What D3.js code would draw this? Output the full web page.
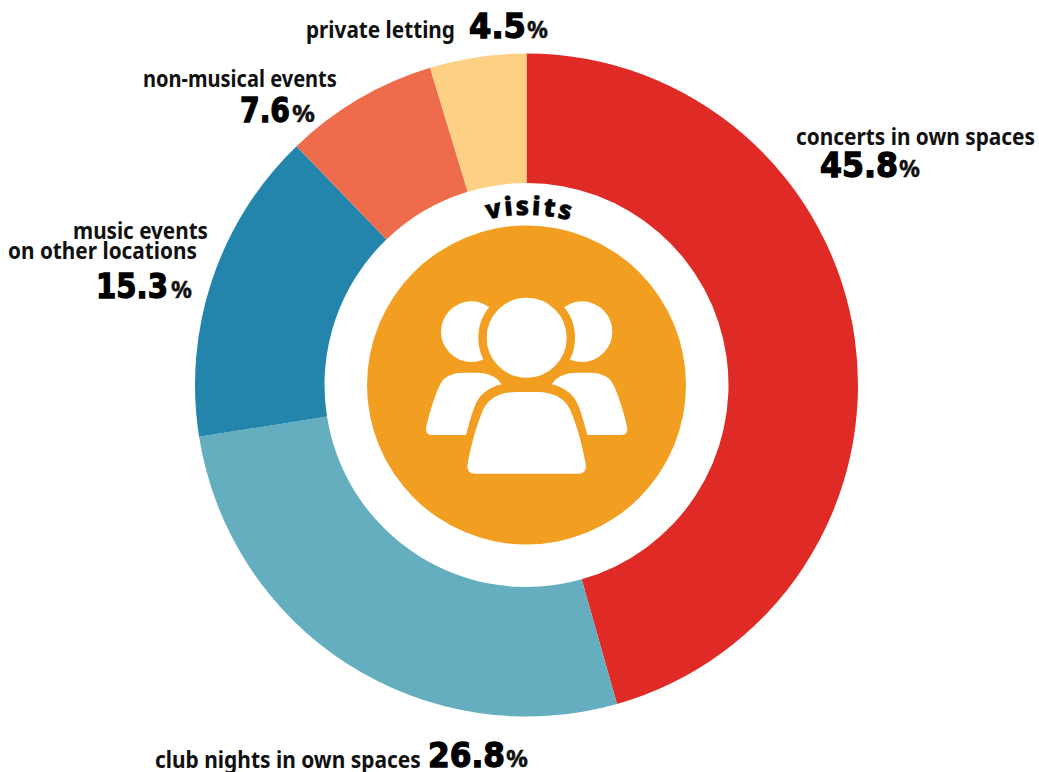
<!DOCTYPE html>
<html>
<head>
<meta charset="UTF-8">
<title></title>
<style>
  html, body { margin: 0; padding: 0; background: #fff; }
  svg { display: block; }
  .name { font-family: "Noto Sans", sans-serif; font-weight: 700; font-size: 23px; fill: #111; }
  .num { font-family: "DejaVu Sans", sans-serif; font-weight: 700; font-size: 33px; fill: #000; stroke: #000; stroke-width: 1.3px; }
  .pct { font-family: "Noto Sans", sans-serif; font-weight: 700; font-size: 24px; fill: #111; stroke: #111; stroke-width: .4px; }
</style>
</head>
<body>
<svg width="1039" height="772"></svg>
<script src="https://cdn.jsdelivr.net/npm/d3@7"></script>
<script>
var categories = ["concerts in own spaces", "club nights in own spaces", "music events on other locations", "non-musical events", "private letting"];
var values = [45.8, 26.8, 15.3, 7.6, 4.5];
// the drawn slices are not quite the printed numbers, these are read off the ring
var sliceShares = [45.6, 26.9, 15.3, 7.5, 4.7];
var colors = ["#e02a26", "#64aec0", "#2385ac", "#ee6c4c", "#fed084"];

// label placement, by hand: name lines [text, x, baseline, width], number x + baseline + width
var nameLines = [
  [["concerts in own spaces", 796, 145, 239]],
  [["club nights in own spaces", 155, 768, 266]],
  [["music events", 73, 239, 135], ["on other locations", 8, 259, 189]],
  [["non-musical events", 143, 87, 194]],
  [["private letting", 306, 38, 149]]
];
var numberPos = [[820, 177, 78], [428, 767, 77], [96, 298, 72], [240, 122, 50], [469, 38, 57]];
var pctPos = [[899, 920], [506, 528], [171, 192], [292, 315], [527, 548]];

var cx = 526.5, cy = 385;
var svg = d3.select("svg");
var chart = svg.append("g").attr("transform", "translate(" + cx + "," + cy + ")");

var pie = d3.pie().sort(null);
var arc = d3.arc().innerRadius(202).outerRadius(331.5);

chart.selectAll("path.slice")
  .data(pie(sliceShares))
  .enter().append("path")
  .attr("class", "slice")
  .attr("d", arc)
  .attr("fill", function(d, i) { return colors[i]; });

chart.append("circle").attr("r", 159.5).attr("fill", "#f29e20");

// curved title
chart.append("path")
  .attr("id", "visitsArc")
  .attr("fill", "none")
  .attr("d", "M-170,0 A170,170 0 0 1 170,0");
chart.append("text")
  .attr("font-family", "Noto Sans, sans-serif")
  .attr("font-weight", 900)
  .attr("font-size", 26)
  .attr("letter-spacing", 2.4)
  .attr("fill", "#000")
  .attr("stroke", "#000")
  .attr("stroke-width", 0.4)
  .append("textPath")
  .attr("href", "#visitsArc")
  .attr("startOffset", "50.6%")
  .attr("text-anchor", "middle")
  .text("visits");

// people icon, drawn in 3x units
var icon = svg.append("g").attr("transform", "translate(360,180) scale(" + 1 / 3 + ")").attr("fill", "#fff");
var sideBody = "M215,765 Q197,765 198,745 C205,710 220,660 235,625 C247,590 275,578 310,578 L350,578 C385,578 410,590 425,613 C385,622 355,645 342,685 C332,712 325,740 318,765 Z";
icon.append("circle").attr("cx", 334).attr("cy", 455).attr("r", 91);
icon.append("circle").attr("cx", 666).attr("cy", 455).attr("r", 91);
icon.append("path").attr("d", sideBody);
icon.append("path").attr("d", sideBody).attr("transform", "translate(1000,0) scale(-1,1)");
icon.append("circle").attr("cx", 500).attr("cy", 473).attr("r", 132.5)
  .attr("stroke", "#f29e20").attr("stroke-width", 25);
icon.append("path")
  .attr("d", "M345,881 Q322,881 322,858 C330,810 345,750 365,700 C380,655 420,636 470,636 L530,636 C580,636 620,655 635,700 C655,750 670,810 678,858 Q678,881 655,881 Z");

// squeeze a text to the width it has in the picture
function fitText(cls, str, x, y, w) {
  var t = labels.append("text").attr("class", cls).text(str);
  var sx = w / t.node().getComputedTextLength();
  t.attr("transform", "translate(" + x + "," + y + ") scale(" + sx + ",1)");
}

var labels = svg.append("g");
categories.forEach(function(c, i) {
  nameLines[i].forEach(function(l) {
    fitText("name", l[0], l[1], l[2], l[3]);
  });
  fitText("num", values[i].toFixed(1), numberPos[i][0], numberPos[i][1], numberPos[i][2]);
  fitText("pct", "%", pctPos[i][0], numberPos[i][1], pctPos[i][1] - pctPos[i][0]);
});
</script>
</body>
</html>
